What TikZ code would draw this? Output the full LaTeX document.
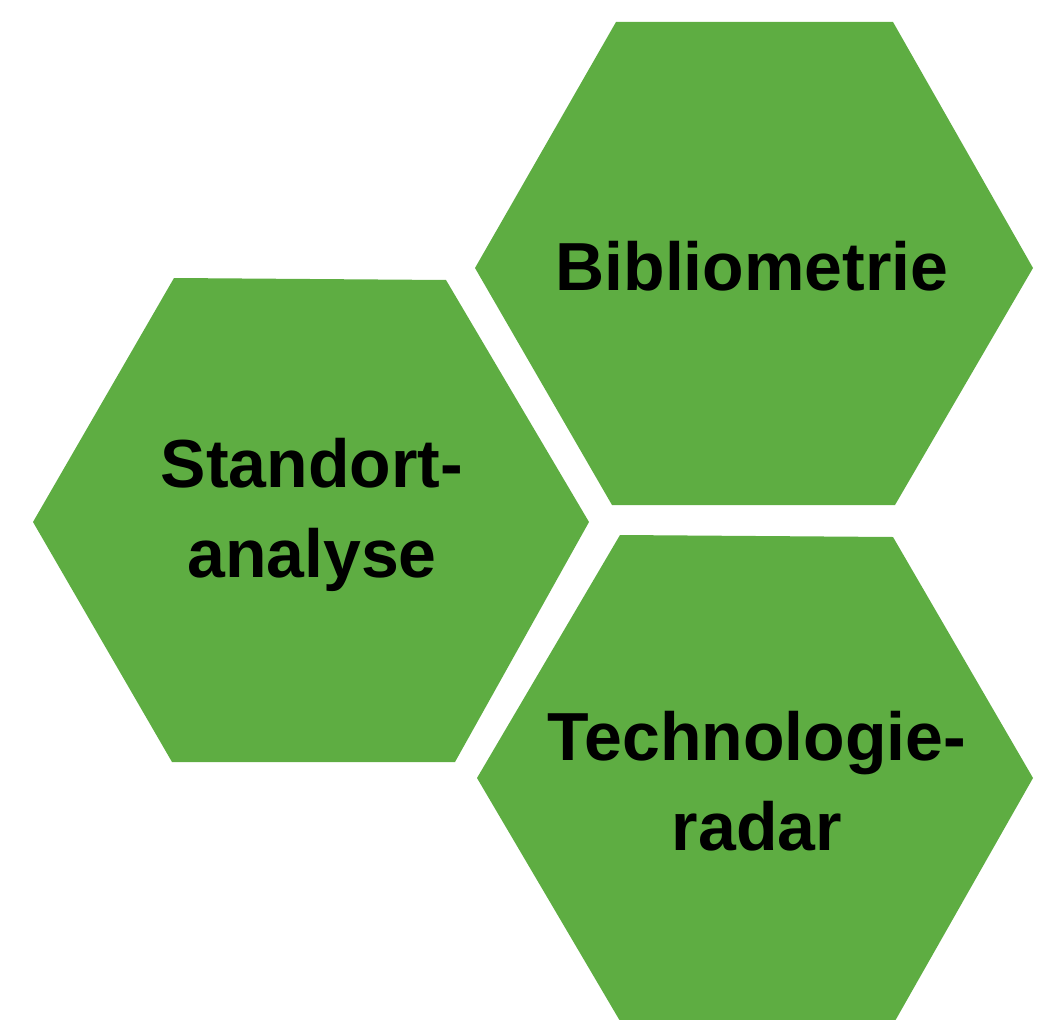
\documentclass[tikz,border=0pt]{standalone}
\usepackage{fontspec}
\setmainfont{Liberation Sans}
\definecolor{hexgreen}{HTML}{5EAD42}
\begin{document}
\begin{tikzpicture}[x=1pt,y=-1pt,
  hexfill/.style={fill=hexgreen},
  lbl/.style={font=\fontsize{68}{90}\selectfont\bfseries, align=center, text=black, inner sep=0pt}]
\useasboundingbox (0,0) rectangle (1043,1019);
\clip (0,0) rectangle (1043,1019);
% Standortanalyse
\fill[hexfill] (33,522) -- (174,278) -- (446,280) -- (589,522) -- (455,762) -- (172,762) -- cycle;
% Bibliometrie
\fill[hexfill] (475,268) -- (616,22) -- (893,22) -- (1033,268) -- (895,505) -- (612,505) -- cycle;
% Technologieradar
\fill[hexfill] (477,778) -- (620,535) -- (893,537) -- (1033,778) -- (895,1021) -- (620,1021) -- cycle;
\node[lbl] (standort) at (312,515) {Standort-\\analyse};
\node[lbl] (biblio) at (752,266) {Bibliometrie};
\node[lbl] (techno) at (757,781) {Technologie-\\radar};
\end{tikzpicture}
\end{document}
